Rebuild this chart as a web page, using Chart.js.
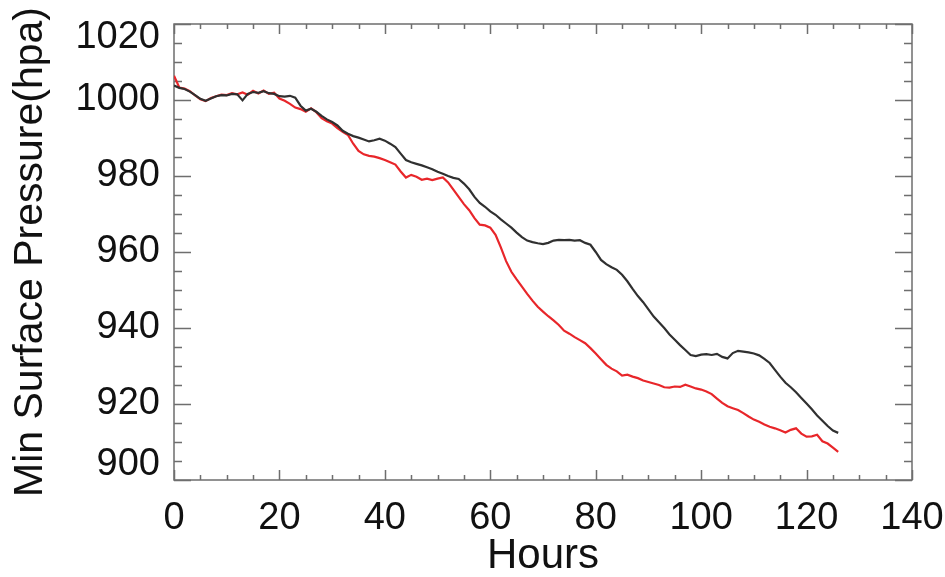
<!DOCTYPE html>
<html>
<head>
<meta charset="utf-8">
<title>Min Surface Pressure</title>
<script src="https://cdn.jsdelivr.net/npm/chart.js@4.4.1/dist/chart.umd.min.js"></script>
<style>
  html, body { margin: 0; padding: 0; background: #fff; }
</style>
</head>
<body>
<canvas id="pressureChart" width="945" height="577"></canvas>
<script>
// hourly minimum surface pressure (hPa), two runs
var blackRun = [
  1003.8, 1003.2, 1002.9, 1002.2, 1001.3, 1000.3, 999.8, 1000.4, 1001.0, 1001.3,
  1001.2, 1001.6, 1001.5, 999.9, 1001.6, 1002.1, 1001.9, 1002.3, 1001.8, 1001.6,
  1001.0, 1000.9, 1001.1, 1000.6, 998.5, 997.2, 997.7, 996.9, 995.8, 994.9,
  994.2, 993.3, 991.9, 991.1, 990.5, 990.1, 989.6, 989.1, 989.4, 989.8,
  989.3, 988.5, 987.6, 985.9, 984.2, 983.6, 983.2, 982.8, 982.3, 981.8,
  981.1, 980.6, 980.0, 979.5, 979.2, 978.0, 976.5, 974.5, 972.9, 971.9,
  970.7, 969.8, 968.6, 967.5, 966.4, 965.1, 963.9, 963.0, 962.6, 962.3,
  962.1, 962.4, 963.0, 963.2, 963.1, 963.2, 963.0, 963.1, 962.4, 961.9,
  960.0, 957.9, 956.8, 956.0, 955.3, 954.0, 952.3, 950.3, 948.4, 946.8,
  944.9, 943.0, 941.5, 940.0, 938.3, 936.9, 935.5, 934.2, 932.9, 932.6,
  933.0, 933.1, 932.9, 933.2, 932.4, 932.0, 933.4, 934.0, 933.8, 933.6,
  933.3, 932.8, 931.9, 930.8, 929.0, 927.2, 925.6, 924.4, 923.1, 921.6,
  920.1, 918.6, 917.0, 915.6, 914.2, 913.0, 912.4
];
var redRun = [
  1006.4, 1003.3, 1003.0, 1002.3, 1001.2, 1000.2, 999.7, 1000.5, 1001.0, 1001.4,
  1001.3, 1001.8, 1001.5, 1002.0, 1001.4, 1002.4, 1001.7, 1002.5, 1001.6, 1001.9,
  1000.4, 999.8, 999.0, 998.0, 997.6, 996.9, 997.8, 996.8, 995.2, 994.4,
  993.8, 992.6, 991.6, 990.8, 988.5, 986.6, 985.7, 985.3, 985.1, 984.7,
  984.2, 983.6, 983.0, 981.2, 979.6, 980.3, 979.8, 979.0, 979.3, 978.9,
  979.3, 979.6, 978.3, 976.4, 974.5, 972.6, 971.0, 968.9, 967.2, 967.0,
  966.4, 964.5, 961.2, 957.6, 954.8, 952.8, 950.9, 949.0, 947.2, 945.6,
  944.3, 943.1, 942.0, 940.8, 939.3, 938.5, 937.6, 936.8, 936.0, 934.7,
  933.3, 931.8, 930.3, 929.3, 928.6, 927.5, 927.7, 927.2, 926.8, 926.2,
  925.8, 925.4, 925.0, 924.4, 924.3, 924.6, 924.5, 925.1, 924.6, 924.1,
  923.8, 923.3, 922.6, 921.4, 920.3, 919.4, 918.9, 918.4, 917.6, 916.7,
  915.9, 915.3, 914.6, 914.0, 913.6, 913.1, 912.5, 913.2, 913.6, 912.2,
  911.4, 911.5, 911.9, 910.2, 909.6, 908.5, 907.4
];
// one sample per model hour
var hours = blackRun.map(function (v, i) { return i; });

var xRange = [0, 140];
var yRange = [900, 1020];

var fontFamily = "'Liberation Sans', Arial, sans-serif";
var frameColor = '#6e6e6e';

function toPoints(values) {
    return values.map(function (v, i) { return { x: hours[i], y: v }; });
}

function plainNumber(value) {
    return String(value);
}

// box round the plot with inward tick marks on all four sides
var boxFrame = {
    id: 'boxFrame',
    beforeDraw: function (chart) {
        // pull the end labels of the pressure axis inside the box
        var ys = chart.scales.y;
        var items = ys.getLabelItems(chart.chartArea);
        if (items.length && !items[0].moved) {
            items[0].options.translation[1] -= 15;
            items[items.length - 1].options.translation[1] += 14;
            items[0].moved = true;
        }
    },
    beforeDatasetsDraw: function (chart) {
        var ctx = chart.ctx;
        var a = chart.chartArea;
        var xs = chart.scales.x;
        var ys = chart.scales.y;
        ctx.save();
        ctx.strokeStyle = frameColor;
        ctx.lineWidth = 1.5;
        ctx.strokeRect(a.left, a.top, a.right - a.left, a.bottom - a.top);
        ctx.beginPath();
        var v, p, len;
        for (v = xs.min; v <= xs.max; v += 5) {
            p = Math.round(xs.getPixelForValue(v)) + 0.5;
            len = v % 20 === 0 ? 10 : 5;
            ctx.moveTo(p, a.bottom); ctx.lineTo(p, a.bottom - len);
            ctx.moveTo(p, a.top); ctx.lineTo(p, a.top + len);
        }
        for (v = ys.min; v <= ys.max; v += 5) {
            p = Math.round(ys.getPixelForValue(v)) + 0.5;
            len = v % 20 === 0 ? 17 : 8;
            ctx.moveTo(a.left, p); ctx.lineTo(a.left + len, p);
            ctx.moveTo(a.right, p); ctx.lineTo(a.right - len, p);
        }
        ctx.stroke();
        ctx.restore();
    }
};

var ctx = document.getElementById('pressureChart').getContext('2d');
var pressureChart = new Chart(ctx, {
    type: 'line',
    data: {
        datasets: [{
            label: 'black',
            data: toPoints(blackRun),
            borderColor: '#303030',
            borderWidth: 2.2,
            pointRadius: 0,
            tension: 0
        }, {
            label: 'red',
            data: toPoints(redRun),
            borderColor: '#e8262a',
            borderWidth: 2.2,
            pointRadius: 0,
            tension: 0
        }]
    },
    options: {
        responsive: false,
        animation: false,
        layout: { padding: { top: 24, right: 33, left: 0, bottom: 0 } },
        plugins: {
            legend: { display: false },
            tooltip: { enabled: false }
        },
        scales: {
            x: {
                type: 'linear',
                min: xRange[0],
                max: xRange[1],
                grid: { display: false, drawTicks: false },
                border: { display: false },
                ticks: {
                    stepSize: 20,
                    padding: 16,
                    color: '#111',
                    callback: plainNumber,
                    font: { family: fontFamily, size: 38 }
                },
                title: {
                    display: true,
                    text: 'Hours',
                    color: '#111',
                    padding: 0,
                    font: { family: fontFamily, size: 42, lineHeight: 1 }
                },
                afterFit: function (scale) {
                    scale.height = 97;
                    scale.paddingLeft = 0;
                    scale.paddingRight = 0;
                }
            },
            y: {
                min: yRange[0],
                max: yRange[1],
                grid: { display: false, drawTicks: false },
                border: { display: false },
                ticks: {
                    stepSize: 20,
                    padding: 14,
                    color: '#111',
                    callback: plainNumber,
                    font: { family: fontFamily, size: 38 }
                },
                title: {
                    display: true,
                    text: 'Min Surface Pressure(hpa)',
                    color: '#111',
                    padding: { top: 10, bottom: 0 },
                    font: { family: fontFamily, size: 41, lineHeight: 1 }
                },
                afterFit: function (scale) {
                    scale.width = 174;
                    scale.paddingTop = 0;
                    scale.paddingBottom = 0;
                }
            }
        }
    },
    plugins: [boxFrame]
});
</script>
</body>
</html>
